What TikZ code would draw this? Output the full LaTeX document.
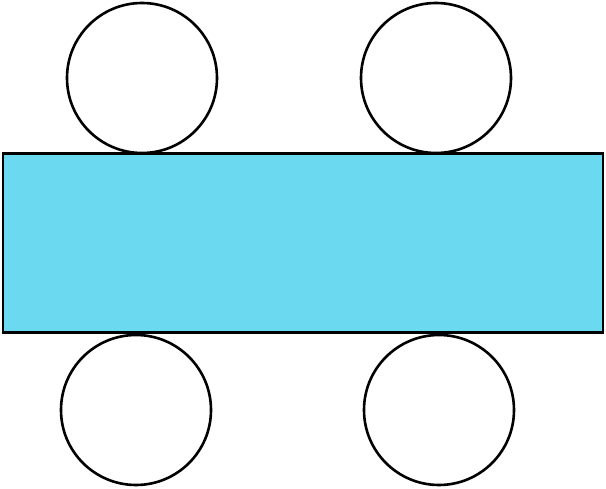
\documentclass[tikz,border=0pt]{standalone}
\usepackage{tikz}
\usetikzlibrary{positioning}
\definecolor{tableblue}{HTML}{6BD9F0}

\tikzset{
  seat/.style={circle, draw=black, line width=2.6pt, fill=white, minimum size=150pt, inner sep=0pt},
  table/.style={rectangle, draw=black, line width=2.6pt, fill=tableblue, minimum width=600pt, minimum height=179pt, inner sep=0pt}
}

\begin{document}
\begin{tikzpicture}[x=1pt,y=-1pt]
\useasboundingbox (0,0) rectangle (606,489);
\node [seat] (seatTL) at (142,78) {};
\node [seat] (seatTR) at (436,78) {};
\node [seat] (seatBL) at (136,410) {};
\node [seat] (seatBR) at (439,410) {};
\node [table] (desk) at (303,243) {};
\end{tikzpicture}
\end{document}
